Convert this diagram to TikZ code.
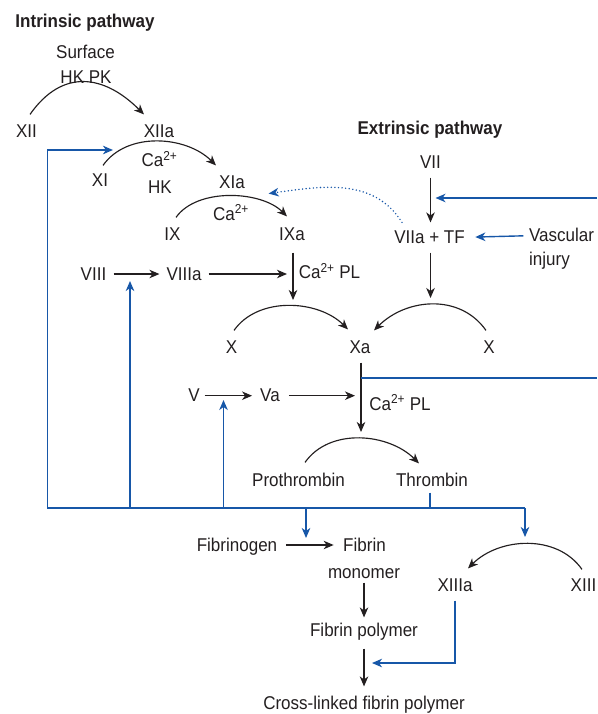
\documentclass[tikz,border=0pt]{standalone}
\usepackage{fontspec}
\setmainfont{Liberation Sans}[FakeStretch=0.92]
\usepackage{xcolor}
\usetikzlibrary{arrows.meta,calc}
\definecolor{fbblue}{RGB}{23,87,168}
\definecolor{ink}{RGB}{35,31,32}

\begin{document}
\begin{tikzpicture}[x=1pt,y=1pt,>={Stealth[length=10pt,width=8.5pt,inset=3pt]},line width=1.15pt,color=ink,font=\fontsize{18.5}{20}\selectfont]
  \tikzstyle{every node}=[inner sep=0pt,text height=12pt,text depth=0pt]
  \tikzset{fb/.style={draw=fbblue,line width=1.4pt},
           curvy/.style={->,out=55,in=135,looseness=#1},
           curvyback/.style={->,out=125,in=45,looseness=#1}}
  \useasboundingbox (0,0) rectangle (597,-714);

  % intrinsic side
  \node (intr) at (85,-21.3) {\bfseries Intrinsic pathway};
  \node (surf) at (85.5,-52.3) {Surface};
  \node (hkpk) at (86,-77.3) {HK PK};
  \node (XII) at (26.5,-131.3) {XII};
  \node (XIIa) at (159,-131.3) {XIIa};
  \node (XI) at (100,-180.7) {XI};
  \node (ca1) at (159.5,-160.7) {Ca\textsuperscript{2+}};
  \node (hk1) at (160,-187.3) {HK};
  \node (XIa) at (232,-182.3) {XIa};
  \node (ca2) at (231,-214) {Ca\textsuperscript{2+}};
  \node (IX) at (172.5,-234) {IX};
  \node (IXa) at (292,-234) {IXa};
  \node (VIII) at (93.5,-274) {VIII};
  \node (VIIIa) at (184,-274) {VIIIa};
  \node (cpl1) at (329.5,-272.3) {Ca\textsuperscript{2+} PL};

  % extrinsic side
  \node (extr) at (430,-128.3) {\bfseries Extrinsic pathway};
  \node (VII) at (430.5,-162.3) {VII};
  \node (VIIa) at (429.5,-237.3) {VIIa + TF};
  \node (vasc) at (561.5,-235.7) {Vascular};
  \node (inj) at (549.5,-259.7) {injury};

  % common pathway
  \node (Xl) at (231.5,-347.3) {X};
  \node (Xa) at (360,-347.3) {Xa};
  \node (Xr) at (489,-347.3) {X};
  \node (V) at (194,-395.7) {V};
  \node (Va) at (270,-395.7) {Va};
  \node (cpl2) at (400,-404) {Ca\textsuperscript{2+} PL};
  \node (proth) at (298.5,-480.7) {Prothrombin};
  \node (thromb) at (432,-480.7) {Thrombin};
  \node (fgen) at (237,-545) {Fibrinogen};
  \node (fibr) at (364.5,-545) {Fibrin};
  \node (mono) at (364,-572) {monomer};
  \node (fpoly) at (364,-630) {Fibrin polymer};
  \node (xlink) at (364,-703) {Cross-linked fibrin polymer};
  \node (XIIIa) at (455,-585.7) {XIIIa};
  \node (XIII) at (583.5,-585.7) {XIII};

  \coordinate (ixtop) at (293,-300);
  \coordinate (xrtop) at (430.5,-298);
  \coordinate (thtop) at (361,-432);

  % activation arcs
  \draw[curvy=1.27] ([shift={(3.5,10.3)}]XII.north) to ([shift={(-15,10.3)}]XIIa.north);
  \draw[curvy=0.95] ([shift={(3,8.7)}]XI.north) to ([shift={(-16,10.3)}]XIa.north);
  \draw[curvy=0.84] ([shift={(3.5,10)}]IX.north) to ([shift={(-5,11)}]IXa.north);
  \draw[curvy=0.94] ([shift={(2.5,10.3)}]Xl.north) to ([shift={(-12,11.3)}]Xa.north);
  \draw[curvyback=1.04] ([shift={(-3,10.3)}]Xr.north) to ([shift={(14,10.3)}]Xa.north);
  \draw[curvy=0.96] ([shift={(6.5,11.7)}]proth.north) to ([shift={(-13,10.7)}]thromb.north);
  \draw[curvyback=0.98] ([shift={(-1.5,9.7)}]XIII.north) to ([shift={(13,10.7)}]XIIIa.north);

  % straight steps
  \draw[->,shorten <=8.7pt,shorten >=8.3pt] (VII.south) -- (VII.south |- VIIa.north);
  \draw[->,shorten <=8.7pt] (VIIa.south -| xrtop) -- (xrtop);
  \draw[->,shorten <=12pt] (IXa.south -| ixtop) -- (ixtop);
  \draw[->,shorten <=6.75pt,shorten >=6.5pt] (VIII.east) -- (VIIIa.west);
  \draw[->,shorten <=6.5pt,shorten >=6pt] (VIIIa.east) -- (VIIIa.east -| ixtop);
  \draw[->,shorten <=8.7pt] (Xa.south -| thtop) -- (thtop);
  \draw[->,shorten <=4.3pt,shorten >=7.6pt] (V.east) -- (Va.west);
  \draw[->,shorten <=8.6pt,shorten >=6pt] (Va.east) -- (Va.east -| thtop);
  \draw[->,shorten <=8pt,shorten >=9pt] (fgen.east) -- (fibr.west);
  \draw[->,shorten <=4pt,shorten >=6pt] (mono.south) -- (fpoly.north);
  \draw[->,shorten <=12pt,shorten >=10pt] (fpoly.south) -- (xlink.north);

  % feedback (blue)
  \coordinate (bL) at (47.5,-508);
  \coordinate (bR) at (525,-508);
  \coordinate (xitip) at (113,-150);
  \coordinate (viiiup) at (130,-281);
  \coordinate (vup) at (223.5,-400);
  \coordinate (fibdown) at (306,-538);
  \coordinate (xiiidown) at (525,-537);
  \coordinate (edgeA) at (597,-198);
  \coordinate (edgeB) at (597,-378);
  \coordinate (xlj) at (365,-663);

  \draw[fb,->] (bR) -- (bL) -- (bL |- xitip) -- (xitip);
  \draw[fb,shorten <=5.3pt] (thromb.south -| 430,0) -- (430,-508);
  \draw[fb,->] (bL -| viiiup) -- (viiiup);
  \draw[fb,->] (bL -| vup) -- (vup);
  \draw[fb,->] (bL -| fibdown) -- (fibdown);
  \draw[fb,->] (bR) -- (xiiidown);
  \draw[fb,->,shorten >=5pt] (edgeA) -- (VII |- edgeA);
  \draw[fb] (thtop |- edgeB) -- (edgeB);
  \draw[fb,->,shorten <=5pt,shorten >=10pt] (vasc.west) -- (VIIa.east);
  \draw[fb,->,shorten <=8.3pt,shorten >=7pt] (XIIIa.south) -- (XIIIa |- xlj) -- (xlj);
  \draw[fb,->,line cap=round,dash pattern=on 0pt off 3.6pt,line width=1.6pt]
    ([shift={(-27.5,8.3)}]VIIa.north) to[out=122,in=8] ([shift={(23.25,-4.7)}]XIa.south east);
\end{tikzpicture}
\end{document}
